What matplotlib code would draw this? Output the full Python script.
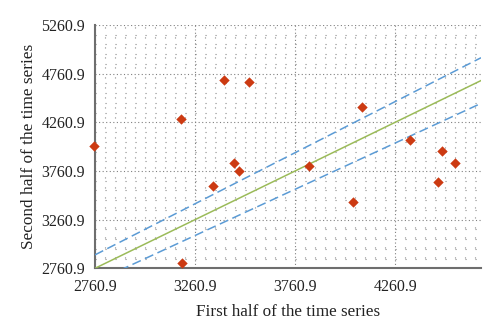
import matplotlib
matplotlib.use("Agg")
import matplotlib.pyplot as plt
import numpy as np
from matplotlib.ticker import FixedLocator

first_half = [2758, 3191, 3404, 3532, 3454, 3482, 3349, 3828, 4094, 4334, 4493, 4558, 4473, 4049, 3196]
second_half = [4018, 4295, 4693, 4673, 3840, 3764, 3610, 3809, 4422, 4080, 3970, 3843, 3648, 3446, 2818]
tick_values = [2760.9, 3260.9, 3760.9, 4260.9, 4760.9, 5260.9]
x_min, x_max = 2760.9, 4690
y_min, y_max = 2760.9, 5260.9
band = 0.05

plt.rcParams['font.family'] = ['Liberation Serif', 'DejaVu Serif']

fig = plt.figure(figsize=(5, 3.31), dpi=100)
ax = fig.add_axes([0.19, 0.1894, 0.772, 0.7351])

ax.set_xlim(x_min, x_max)
ax.set_ylim(y_min, y_max)

ax.xaxis.set_major_locator(FixedLocator(tick_values[:4]))
ax.yaxis.set_major_locator(FixedLocator(tick_values))
ax.xaxis.set_minor_locator(FixedLocator(np.arange(x_min, x_max, 50.0)))
ax.yaxis.set_minor_locator(FixedLocator(np.arange(y_min, y_max, 100.0)))
ax.set_xticklabels([f"{v:.1f}" for v in tick_values[:4]])
ax.set_yticklabels([f"{v:.1f}" for v in tick_values])

ax.grid(which='major', color='#808080', linestyle=(0, (1, 2.2)), linewidth=0.8)
ax.grid(which='minor', color='#8a8a8a', linestyle=(0, (1, 8)), linewidth=0.8)
ax.set_axisbelow(True)

ax.tick_params(which='both', length=0, labelsize=11.5, colors='#222222')
ax.tick_params(axis='x', pad=8)
ax.tick_params(axis='y', pad=7)

for s in ['top', 'right']:
    ax.spines[s].set_visible(False)
for s in ['left', 'bottom']:
    ax.spines[s].set_color('#6e6e6e')
    ax.spines[s].set_linewidth(1.5)

xs = np.array([x_min, x_max])
ax.plot(xs, xs, color='#9BBB59', linewidth=1.1, zorder=3)
ax.plot(xs, xs * (1 + band), color='#5B9BD5', linewidth=1.1, linestyle=(0, (6, 3)), zorder=3)
ax.plot(xs, xs * (1 - band), color='#5B9BD5', linewidth=1.1, linestyle=(0, (6, 3)), zorder=3)

ax.scatter(first_half, second_half, marker='D', s=28, color='#CC3A12', zorder=5, clip_on=False, linewidths=0)

ax.set_xlabel('First half of the time series', fontsize=12.3, color='#222222', labelpad=6)
ax.set_ylabel('Second half of the time series', fontsize=12.4, color='#222222', labelpad=3)

fig.savefig('out.png', dpi=100)
